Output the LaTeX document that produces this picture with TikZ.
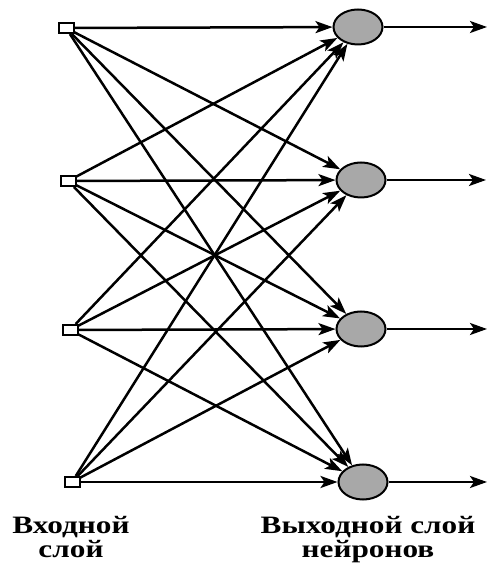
\documentclass[tikz,border=0pt]{standalone}
\usepackage{fontspec}
\setmainfont{Liberation Serif}
\usetikzlibrary{arrows.meta,shapes.geometric}
\begin{document}
\begin{tikzpicture}[x=1pt,y=1pt,
  inbox/.style={draw,line width=2pt,minimum width=15pt,minimum height=10pt,inner sep=0pt,fill=white},
  neuron/.style={ellipse,draw,line width=2pt,fill=black!34,minimum width=49pt,minimum height=35pt,inner sep=0pt},
  link/.style={line width=2.5pt,-{Stealth[length=17pt,width=12pt,inset=4pt]}},
  lbl/.style={font=\bfseries\fontsize{25}{25}\selectfont,align=center,anchor=base,inner sep=0pt,xscale=1.25,transform shape}]
\useasboundingbox (0,0) rectangle (488,565);
\node[inbox] (i1) at (66,537) {};
\node[inbox] (i2) at (68,384) {};
\node[inbox] (i3) at (70,235) {};
\node[inbox] (i4) at (72,83) {};
\node[neuron] (o1) at (358,538) {};
\node[neuron] (o2) at (361,385) {};
\node[neuron] (o3) at (361,236) {};
\node[neuron] (o4) at (363,83) {};
\coordinate (e1) at (487,538);
\coordinate (e2) at (486,385);
\coordinate (e3) at (487,236);
\coordinate (e4) at (487,83);
\foreach \i in {1,...,4}{
  \foreach \j in {1,...,4}{
    \draw[link] (i\i) -- (o\j);
  }
  \draw[link] (o\i) -- (e\i);
}
\node[lbl] (t1) at (71,7) {Входной\\слой};
\node[lbl] (t2) at (368,7) {Выходной слой\\нейронов};
\end{tikzpicture}
\end{document}
